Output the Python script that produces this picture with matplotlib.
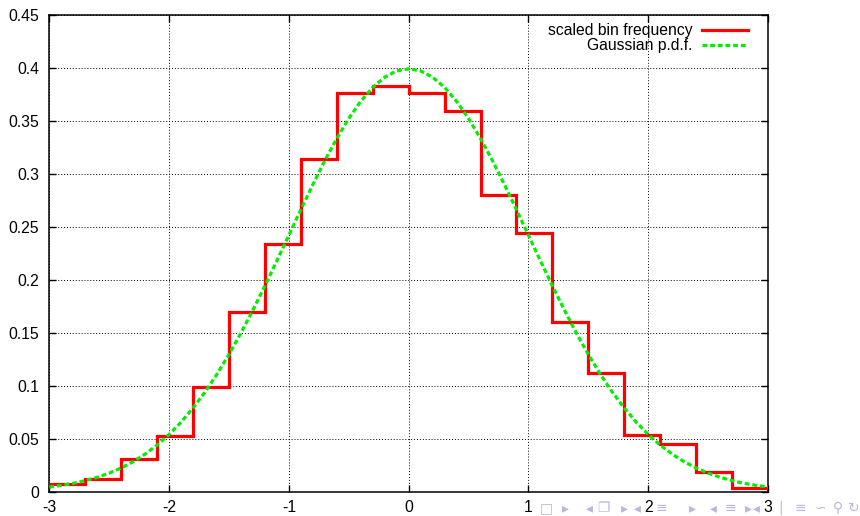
import matplotlib
matplotlib.use("Agg")
import matplotlib.pyplot as plt
from matplotlib.lines import Line2D

# ---- data ----
bin_edges = [-3.0, -2.7, -2.4, -2.1, -1.8, -1.5, -1.2, -0.9, -0.6, -0.3, 0.0,
             0.3, 0.6, 0.9, 1.2, 1.5, 1.8, 2.1, 2.4, 2.7, 3.0]
bin_freq = [0.0070, 0.0117, 0.0306, 0.0525, 0.0985, 0.1698, 0.2334, 0.3136,
            0.3764, 0.3830, 0.3758, 0.3594, 0.2796, 0.2443, 0.1604, 0.1123,
            0.0535, 0.0447, 0.0186, 0.0032]

gauss_x = [-3.0, -2.9, -2.8, -2.7, -2.6, -2.5, -2.4, -2.3, -2.2, -2.1,
           -2.0, -1.9, -1.8, -1.7, -1.6, -1.5, -1.4, -1.3, -1.2, -1.1,
           -1.0, -0.9, -0.8, -0.7, -0.6, -0.5, -0.4, -0.3, -0.2, -0.1,
           0.0, 0.1, 0.2, 0.3, 0.4, 0.5, 0.6, 0.7, 0.8, 0.9,
           1.0, 1.1, 1.2, 1.3, 1.4, 1.5, 1.6, 1.7, 1.8, 1.9,
           2.0, 2.1, 2.2, 2.3, 2.4, 2.5, 2.6, 2.7, 2.8, 2.9, 3.0]
gauss_y = [0.0044, 0.0060, 0.0079, 0.0104, 0.0136, 0.0175, 0.0224, 0.0283, 0.0355, 0.0440,
           0.0540, 0.0656, 0.0790, 0.0940, 0.1109, 0.1295, 0.1497, 0.1714, 0.1942, 0.2179,
           0.2420, 0.2661, 0.2897, 0.3123, 0.3332, 0.3521, 0.3683, 0.3814, 0.3910, 0.3970,
           0.3989, 0.3970, 0.3910, 0.3814, 0.3683, 0.3521, 0.3332, 0.3123, 0.2897, 0.2661,
           0.2420, 0.2179, 0.1942, 0.1714, 0.1497, 0.1295, 0.1109, 0.0940, 0.0790, 0.0656,
           0.0540, 0.0440, 0.0355, 0.0283, 0.0224, 0.0175, 0.0136, 0.0104, 0.0079, 0.0060, 0.0044]

x_ticks = [-3, -2, -1, 0, 1, 2, 3]
x_tick_labels = ["-3", "-2", "-1", "0", "1", "2", "3"]
y_ticks = [0, 0.05, 0.1, 0.15, 0.2, 0.25, 0.3, 0.35, 0.4, 0.45]
y_tick_labels = ["0", "0.05", "0.1", "0.15", "0.2", "0.25", "0.3", "0.35", "0.4", "0.45"]

series_labels = ["scaled bin frequency", "Gaussian p.d.f."]

# ---- styling ----
plt.rcParams['font.family'] = ['Liberation Sans', 'DejaVu Sans']
RED = "#ff0000"
GREEN = "#00ee00"
FS = 11.3

fig = plt.figure(figsize=(8.6, 5.16), dpi=100)
W, H = 860.0, 516.0
left_px, right_px, top_px, bot_px = 49.3, 768.0, 14.7, 491.7
ax = fig.add_axes([left_px / W, 1 - bot_px / H, (right_px - left_px) / W, (bot_px - top_px) / H])

ax.stairs(bin_freq, bin_edges, baseline=None, color=RED, linewidth=2.3, zorder=3)
ax.plot(gauss_x, gauss_y, color=GREEN, linewidth=2.3, dashes=(1.5, 0.9), zorder=4)

ax.set_xlim(-3, 3)
ax.set_ylim(0, 0.45)
ax.set_xticks(x_ticks)
ax.set_xticklabels(x_tick_labels)
ax.set_yticks(y_ticks)
ax.set_yticklabels(y_tick_labels)

ax.grid(True, color="black", linestyle=(0, (1, 2)), linewidth=0.7, zorder=1)
ax.set_axisbelow(True)
for s in ax.spines.values():
    s.set_linewidth(1.1)
    s.set_color("black")
ax.tick_params(direction="in", length=5, width=1.0, top=True, right=True,
               labelsize=FS, colors="black")
ax.tick_params(axis="y", pad=7.5)
ax.tick_params(axis="x", pad=6)

handles = [Line2D([], [], color=RED, linewidth=2.3),
           Line2D([], [], color=GREEN, linewidth=2.3, dashes=(1.5, 0.9))]
leg = ax.legend(handles, series_labels, loc="upper right",
                bbox_to_anchor=((748 - left_px) / (right_px - left_px), 0.982),
                frameon=False, markerfirst=False, fontsize=FS,
                handlelength=2.9, handletextpad=0.65, labelspacing=0.0,
                borderpad=0, borderaxespad=0)

# beamer navigation symbols (decorative, bottom right)
nav = [("□", 546), ("▸", 565), ("◂", 589), ("❐", 603), ("▸", 624),
       ("◂", 637), ("≡", 661), ("▸", 692), ("◂", 713), ("≡", 730), ("▸", 748),
       ("◂", 756), ("|", 781), ("≡", 800), ("∽", 820), ("⚲", 838), ("↻", 854)]
for sym, xp in nav:
    fig.text(xp / W, 1 - 508 / H, sym, ha="center", va="center", fontsize=10,
             color="#b8b8dc", family=['DejaVu Sans', 'Noto Sans CJK SC'])

fig.savefig("out.png", dpi=100)
